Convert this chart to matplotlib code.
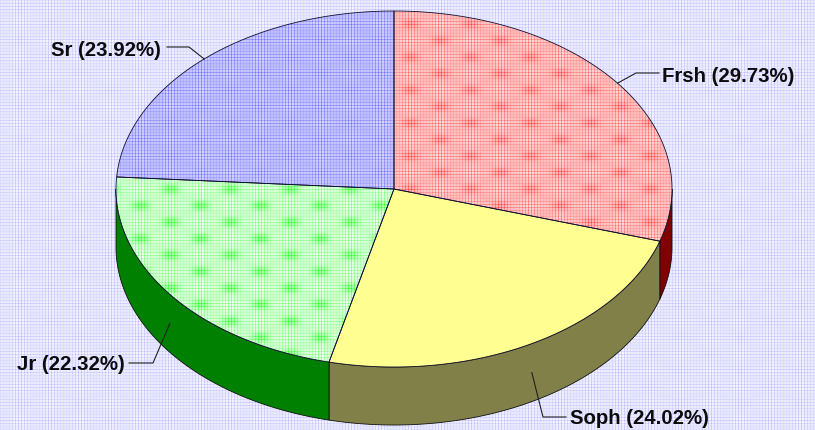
import numpy as np
import matplotlib
matplotlib.use("Agg")
import matplotlib.pyplot as plt
from matplotlib.patches import Polygon

categories = ["Frsh", "Soph", "Jr", "Sr"]
shares = [29.73, 24.02, 22.32, 23.92]
top_colors = [(255, 40, 40), (255, 255, 145), (30, 255, 30), (70, 70, 255)]
side_colors = ["#800000", "#808048", "#008000", "#3c3c9e"]
label_xy = [(662, 77), (570, 418), (17, 365), (51, 50)]
elbow_xy = [(636, 73), (543, 417), (153, 363), (189, 47)]
end_xy = [(659, 73), (566, 417), (129, 363), (167, 47)]
tex_mean = [0.36, 0.0, 0.26, 0.40]
tex_spot = [0.18, 0.0, 0.34, 0.04]

W, H = 815, 430
CX, CY, RX, RY, DEPTH = 394, 189, 278, 178, 58


def point(share_pct, drop=0.0):
    t = np.radians(np.asarray(share_pct) * 3.6)
    return CX + RX * np.sin(t), CY - RY * np.cos(t) + drop


def plaid(base, mean=0.36, spot=0.22):
    yy, xx = np.mgrid[0:H, 0:W]
    ex = 0.6 + 0.4 * np.cos(2 * np.pi * (xx - 20) / 30)
    ey = 0.6 + 0.4 * np.cos(2 * np.pi * (yy - 7) / 16.5)
    wx = np.cos(2 * np.pi * xx / 3) * ex
    wy = np.cos(2 * np.pi * yy / 3) * ey
    blob = np.clip(np.cos(2 * np.pi * (xx - 20) / 60) * np.cos(2 * np.pi * (yy - 7) / 33), 0, 1) ** 2
    m = np.clip(mean + 0.2 * wx + 0.16 * wy + spot * blob, 0, 1)
    base = np.array(base) / 255
    return (1 - m[..., None]) + m[..., None] * base


fig = plt.figure(figsize=(W / 100, H / 100), dpi=100)
ax = fig.add_axes([0, 0, 1, 1])
ax.set_xlim(0, W)
ax.set_ylim(H, 0)
ax.axis("off")

ax.imshow(plaid((150, 150, 255), mean=0.27, spot=0.04), extent=(0, W, H, 0),
          interpolation="nearest", aspect="auto", zorder=0)

edges = np.concatenate([[0], np.cumsum(shares)])
edges = edges / edges[-1] * 100

# side walls (front half of the ellipse only)
for i in range(len(shares)):
    a = max(edges[i], 25.0)
    b = min(edges[i + 1], 75.0)
    if b <= a:
        continue
    s = np.linspace(a, b, 200)
    x, y = point(s)
    x2, y2 = point(s[::-1], DEPTH)
    ax.add_patch(Polygon(np.c_[np.r_[x, x2], np.r_[y, y2]], closed=True,
                         fc=side_colors[i], ec="#101010", lw=0.6, zorder=2))

# top faces
for i in range(len(shares)):
    s = np.linspace(edges[i], edges[i + 1], 300)
    x, y = point(s)
    verts = np.c_[np.r_[CX, x], np.r_[CY, y]]
    if i == 1:
        ax.add_patch(Polygon(verts, closed=True, fc=np.array(top_colors[i]) / 255,
                             ec="none", zorder=3))
    else:
        im = ax.imshow(plaid(top_colors[i], tex_mean[i], tex_spot[i]), extent=(0, W, H, 0),
                       interpolation="nearest", aspect="auto", zorder=3)
        clip = Polygon(verts, closed=True, transform=ax.transData)
        im.set_clip_path(clip)
    ax.add_patch(Polygon(verts, closed=True, fc="none", ec="#101030", lw=0.6, zorder=4))

# leader lines and labels
for i, name in enumerate(categories):
    mid = (edges[i] + edges[i + 1]) / 2
    in_front = 25 < mid < 75
    x0, y0 = point(mid, DEPTH / 2 if in_front else 0)
    ax.plot([x0, elbow_xy[i][0], end_xy[i][0]], [y0, elbow_xy[i][1], end_xy[i][1]],
            color="#202020", lw=0.8, zorder=5)
    ax.text(label_xy[i][0], label_xy[i][1], f"{name} ({shares[i]:.2f}%)",
            family="Liberation Sans", fontweight="bold", fontsize=14.7, color="#0c0c10",
            ha="left", va="center", zorder=6)

ax.set_xlim(0, W)
ax.set_ylim(H, 0)
fig.savefig("out.png", dpi=100)
